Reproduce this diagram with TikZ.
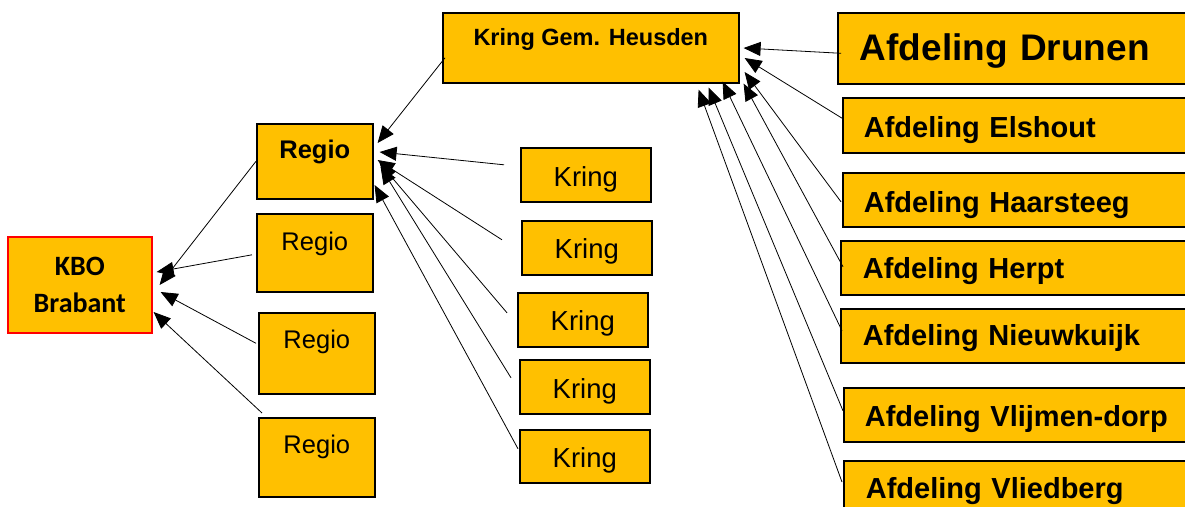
\documentclass[tikz,border=0pt]{standalone}
\usepackage{fontspec}
\setmainfont{Liberation Sans}
\newfontfamily\calibri{Carlito}
\usetikzlibrary{arrows.meta}
\definecolor{gold}{HTML}{FFC000}
\tikzset{
  box/.style={draw=black, line width=1.6pt, fill=gold, inner ysep=0pt, inner xsep=0pt, anchor=north west},
  regio/.style={box, minimum width=116pt, font=\fontsize{25.5}{30}\selectfont},
  kring/.style={box, minimum width=130pt, font=\fontsize{27.5}{32}\selectfont},
  afd/.style={box, inner xsep=22pt, text width=340pt, align=left, font=\bfseries\fontsize{29}{34}\selectfont},
  arr/.style={-{Triangle[length=17pt,width=14pt]}, line width=0.8pt},
}
\begin{document}
\begin{tikzpicture}[x=1pt,y=-1pt]
\clip (0,0) rectangle (1185,506);
\fill[white] (0,0) rectangle (1185,506);
% KBO
\node[box, draw=red, minimum width=144pt, minimum height=96pt, align=center,
  font=\calibri\bfseries\fontsize{28}{37}\selectfont] (kbo) at (7,236) {KBO\\Brabant};
% Regio
\node[regio, font=\bfseries\fontsize{25.5}{30}\selectfont, text height=35pt, text depth=40pt] (r1) at (256,123) {Regio};
\node[regio, text height=37pt, text depth=41pt] (r2) at (256,213) {Regio};
\node[regio, text height=36pt, text depth=45pt] (r3) at (258,312) {Regio};
\node[regio, text height=36pt, text depth=43pt] (r4) at (258,417) {Regio};
% Kring
\node[kring, text height=39pt, text depth=15pt] (k1) at (520,147) {Kring};
\node[kring, text height=38pt, text depth=16pt] (k2) at (521,220) {Kring};
\node[kring, text height=38pt, text depth=16pt] (k3) at (517,292) {Kring};
\node[kring, text height=39pt, text depth=15pt] (k4) at (519,359) {Kring};
\node[kring, text height=38pt, text depth=15pt] (k5) at (519,429) {Kring};
% Kring Gem. Heusden
\node[box, minimum width=296pt, text height=33pt, text depth=37pt,
  font=\bfseries\fontsize{23.5}{28}\selectfont] (h) at (442,12) {Kring Gem. Heusden};
% Afdelingen
\node[afd, font=\bfseries\fontsize{37}{42}\selectfont, text height=48pt, text depth=23pt] (a1) at (837,12) {Afdeling Drunen};
\node[afd, inner xsep=21pt, text height=40pt, text depth=15pt] (a2) at (842,97) {Afdeling Elshout};
\node[afd, inner xsep=21pt, text height=40pt, text depth=14pt] (a3) at (842,172) {Afdeling Haarsteeg};
\node[afd, text height=38pt, text depth=16pt] (a4) at (840,240) {Afdeling Herpt};
\node[afd, text height=37pt, text depth=17pt] (a5) at (840,308) {Afdeling Nieuwkuijk};
\node[afd, inner xsep=21pt, text height=39pt, text depth=15pt] (a6) at (843,387) {Afdeling Vlijmen-dorp};
\node[afd, text height=38pt, text depth=32pt] (a7) at (843,460) {Afdeling Vliedberg};
% Regio -> KBO
\draw[arr] (r1.west) -- ([shift={(7,49)}]kbo.north east);
\draw[arr] ([shift={(-4,2)}]r2.west) -- ([shift={(4,36)}]kbo.north east);
\draw[arr] ([shift={(-2,-10)}]r3.west) -- ([shift={(8,56)}]kbo.north east);
\draw[arr] ([shift={(4,-4)}]r4.north west) -- ([shift={(1,76)}]kbo.north east);
% Kring -> Regio
\draw[arr] ([shift={(-16,-10)}]k1.west) -- ([shift={(6,29)}]r1.north east);
\draw[arr] ([shift={(-19,-8)}]k2.west) -- ([shift={(4,37)}]r1.north east);
\draw[arr] ([shift={(-10,-7)}]k3.west) -- ([shift={(6,40)}]r1.north east);
\draw[arr] ([shift={(-8,-9)}]k4.west) -- ([shift={(7,44)}]r1.north east);
\draw[arr] ([shift={(-1,-7.5)}]k5.west) -- ([shift={(1,62)}]r1.north east);
% Heusden -> Regio
\draw[arr] ([shift={(3,10)}]h.west) -- ([shift={(4,20)}]r1.north east);
% Afdelingen -> Heusden
\draw[arr] ([shift={(4,5)}]a1.west) -- ([shift={(4,36)}]h.north east);
\draw[arr] ([shift={(1,-6.5)}]a2.west) -- ([shift={(5,46)}]h.north east);
\draw[arr] ([shift={(-1,2)}]a3.west) -- ([shift={(5,60)}]h.north east);
\draw[arr] ([shift={(3,-1)}]a4.west) -- ([shift={(4,0)}]h.south east);
\draw[arr] ([shift={(2,-5)}]a5.west) -- ([shift={(-17,-2)}]h.south east);
\draw[arr] ([shift={(0,-4)}]a6.west) -- ([shift={(-31,4)}]h.south east);
\draw[arr] ([shift={(-1,22)}]a7.north west) -- ([shift={(-41,6)}]h.south east);
\end{tikzpicture}
\end{document}
